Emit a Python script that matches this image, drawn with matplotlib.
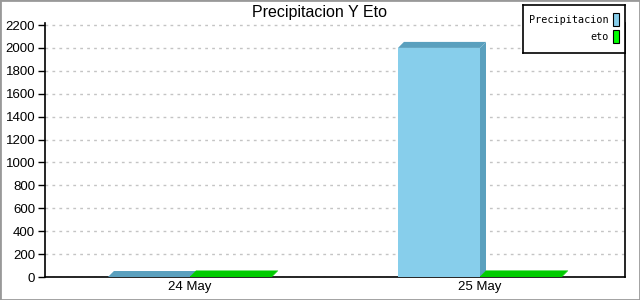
import matplotlib
matplotlib.use("Agg")
import matplotlib.pyplot as plt
from matplotlib.patches import Polygon, Rectangle

fechas = ['24 May', '25 May']
precipitacion = [0, 2000]
eto = [4.5, 5.0]
series = ['Precipitacion', 'eto']

col_front = ['#87CEEB', '#00CC00']
col_side = ['#5AA0BE', '#00CC00']
col_leg = ['#87CEEB', '#00FF00']

plt.rcParams['font.family'] = ['Liberation Sans', 'DejaVu Sans']

fig = plt.figure(figsize=(6.4, 3.0), dpi=100)
ax = fig.add_axes([45 / 640, 23 / 300, 580 / 640, 254 / 300])
ax.set_xlim(-0.5, 1.5)
ax.set_ylim(0, 2200 * 254 / 252)

ancho = 0.283
# profundidad 3D en pixeles -> datos
dx = 6 / 290
dy = 6 / 252 * 2200

for i, vals in enumerate([precipitacion, eto]):
    for j, v in enumerate(vals):
        x0 = j - ancho + i * ancho
        x1 = x0 + ancho
        ax.add_patch(Rectangle((x0, 0), ancho, v, facecolor=col_front[i],
                               edgecolor='none', zorder=3))
        top = [(x0, v), (x1, v), (x1 + dx, v + dy), (x0 + dx, v + dy)]
        ax.add_patch(Polygon(top, closed=True, facecolor=col_side[i],
                             edgecolor='none', zorder=3))
        side = [(x1, 0), (x1 + dx, dy), (x1 + dx, v + dy), (x1, v)]
        ax.add_patch(Polygon(side, closed=True, facecolor=col_side[i],
                             edgecolor='none', zorder=3))

ax.set_yticks(range(0, 2201, 200))
ax.set_xticks(range(len(fechas)))
ax.set_xticklabels(fechas)
ax.tick_params(axis='y', length=5, width=1, labelsize=9.5, pad=2)
ax.tick_params(axis='x', length=0, labelsize=9.5, pad=3)
ax.yaxis.grid(True, linestyle=(0, (2, 3)), color='#C4C4C4', linewidth=1)
ax.set_axisbelow(True)
ax.spines['top'].set_visible(False)
for s in ['left', 'bottom', 'right']:
    ax.spines[s].set_linewidth(1.2)

fig.text(320 / 640, 1 - 12 / 300, 'Precipitacion Y Eto', ha='center',
         va='center', fontsize=11.5)

# leyenda con caja
leg = fig.add_axes([523 / 640, 1 - 53 / 300, 102 / 640, 48 / 300])
leg.set_xlim(0, 102)
leg.set_ylim(48, 0)
leg.set_xticks([])
leg.set_yticks([])
for s in leg.spines.values():
    s.set_linewidth(1.2)
for k, nombre in enumerate(series):
    yc = 15 + k * 17
    leg.text(86, yc, nombre, ha='right', va='center', fontsize=7.3,
             family='DejaVu Sans Mono')
    leg.add_patch(Rectangle((90, yc - 7), 6, 13, facecolor=col_leg[k],
                            edgecolor='black', linewidth=0.8))

fig.add_artist(Rectangle((0, 0), 1, 1, transform=fig.transFigure, fill=False,
                         edgecolor='#999999', linewidth=2))

fig.savefig('out.png', dpi=100)
